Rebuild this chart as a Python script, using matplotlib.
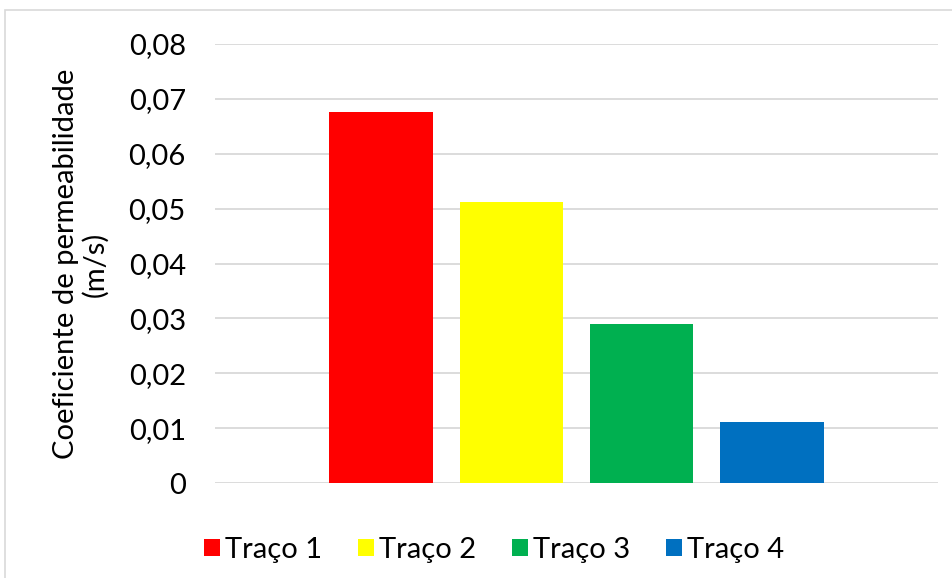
import numpy as np
import matplotlib.pyplot as plt
from matplotlib.patches import Rectangle, Patch

plt.rcParams['font.family'] = ['Lato', 'DejaVu Sans']

# dados
tracos = ['Traço 1', 'Traço 2', 'Traço 3', 'Traço 4']
coef_k = [0.0676, 0.0512, 0.0290, 0.0111]
cores = ['#FF0000', '#FFFF00', '#00B050', '#0070C0']
yticks = [0, 0.01, 0.02, 0.03, 0.04, 0.05, 0.06, 0.07, 0.08]
ytick_labels = ['0', '0,01', '0,02', '0,03', '0,04', '0,05', '0,06', '0,07', '0,08']

fig = plt.figure(figsize=(9.52, 5.78), dpi=100)
ax = fig.add_axes([215/952, 1-483/578, 723/952, 439/578])

# moldura do gráfico
fig.patches.append(Rectangle((5/952, -0.1), 1.2, 1-10/578+0.1, transform=fig.transFigure,
                             fill=False, edgecolor='#D9D9D9', lw=1.2))

x = np.arange(len(tracos))
ax.bar(x, coef_k, width=0.792, color=cores, zorder=3)

ax.set_xlim(-1.273, 4.273)
ax.set_ylim(0, 0.08)
ax.set_yticks(yticks)
ax.set_yticklabels(ytick_labels, fontsize=21)
ax.set_xticks([])
ax.tick_params(axis='y', length=0, pad=21)
ax.yaxis.grid(True, color='#D9D9D9', lw=1.3, zorder=0)
for s in ax.spines.values():
    s.set_visible(False)

fig.text(81/952, 1-264/578, 'Coeficiente de permeabilidade\n(m/s)', rotation=90,
         ha='center', va='center', multialignment='center', fontsize=21, linespacing=1.1)

handles = [Patch(facecolor=c, edgecolor='none') for c in cores]
fig.legend(handles, tracos, loc='center', bbox_to_anchor=(494/952, 1-550/578), ncol=4,
           frameon=False, fontsize=21, handlelength=0.55, handleheight=0.55,
           handletextpad=0.2, columnspacing=1.2)

fig.savefig('out.png', dpi=100)
